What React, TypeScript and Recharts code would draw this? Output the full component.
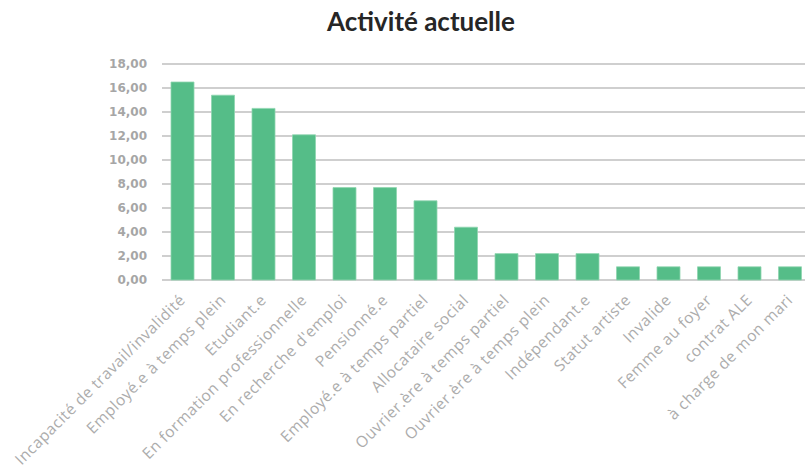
import React from 'react';
import { BarChart, Bar, XAxis, YAxis, CartesianGrid } from 'recharts';

const categories = [
  'Incapacité de travail/invalidité',
  'Employé.e à temps plein',
  'Etudiant.e',
  'En formation professionnelle',
  "En recherche d'emploi",
  'Pensionné.e',
  'Employé.e à temps partiel',
  'Allocataire social',
  'Ouvrier.ère à temps partiel',
  'Ouvrier.ère à temps plein',
  'Indépendant.e',
  'Statut artiste',
  'Invalide',
  'Femme au foyer',
  'contrat ALE',
  'à charge de mon mari',
];

const values = [16.5, 15.4, 14.3, 12.1, 7.7, 7.7, 6.6, 4.4, 2.2, 2.2, 2.2, 1.1, 1.1, 1.1, 1.1, 1.1];

const yTicks = [0, 2, 4, 6, 8, 10, 12, 14, 16, 18];

const data = categories.map((name, i) => ({ name, value: values[i] }));

const fmt = (v: number) => v.toFixed(2).replace('.', ',');

const SlantTick = ({ x, y, payload }: any) => {
  const tx = x + 4;
  const ty = y + 21;
  return (
    <text
      x={tx}
      y={ty}
      transform={`rotate(-45, ${tx}, ${ty})`}
      textAnchor="end"
      fill="#acacac"
      fontFamily="Open Sans"
      fontSize={15.5}
      letterSpacing={0.55}
    >
      {payload.value}
    </text>
  );
};

const App = () => {
  return (
    <div style={{ position: 'absolute', left: 0, top: 0, width: 805, height: 472, overflow: 'hidden', background: '#fff' }}>
      <div
        style={{
          position: 'absolute',
          left: 0,
          top: 5,
          width: 842,
          textAlign: 'center',
          fontFamily: 'Lato, sans-serif',
          fontWeight: 700,
          fontSize: 26,
          color: '#262626',
        }}
      >
        Activité actuelle
      </div>
      <BarChart
        width={818}
        height={472}
        data={data}
        margin={{ top: 64, right: 8, left: 0, bottom: 0 }}
        barSize={23}
      >
        <CartesianGrid vertical={false} stroke="#bfbfbf" strokeWidth={1.3} />
        <XAxis
          dataKey="name"
          interval={0}
          height={192}
          axisLine={false}
          tickLine={false}
          tickSize={0}
          tickMargin={0}
          tick={<SlantTick />}
        />
        <YAxis
          width={162}
          domain={[0, 18]}
          ticks={yTicks}
          axisLine={false}
          tickLine={false}
          tickSize={0}
          tickMargin={15}
          tickFormatter={fmt}
          tick={{ fill: '#a6a6a6', fontSize: 12, fontWeight: 700, fontFamily: "'DejaVu Sans', sans-serif" }}
        />
        <Bar dataKey="value" fill="#55bd88" stroke="#8fd6b0" strokeWidth={0.8} isAnimationActive={false} />
      </BarChart>
    </div>
  );
};

export default App;
